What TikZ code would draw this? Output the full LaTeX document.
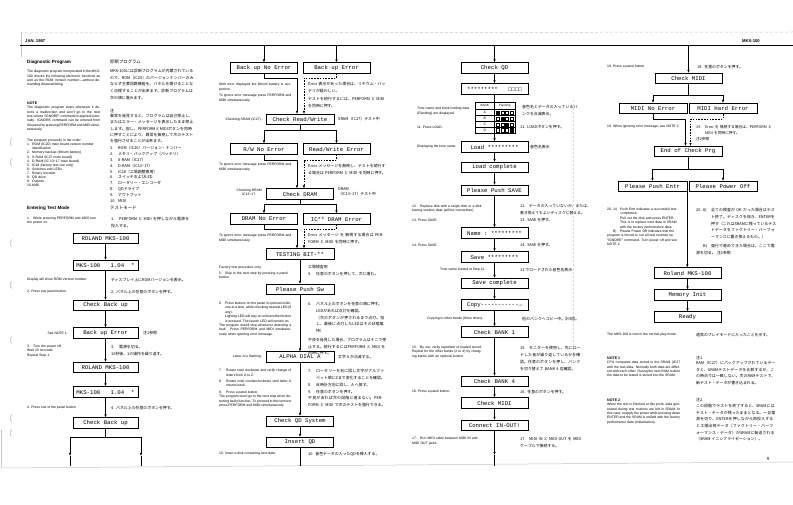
\documentclass[tikz,border=0pt]{standalone}
\usepackage{fontspec}
\setmainfont{Liberation Sans}
\setmonofont{Liberation Mono}
\newfontfamily\jpf{Noto Sans CJK JP}
\XeTeXlinebreaklocale "ja"
\XeTeXlinebreakskip=0pt plus 0.5pt
\tolerance=9999
\emergencystretch=3pt
\hbadness=10000
\hfuzz=20pt
\usetikzlibrary{arrows.meta,calc}
\newcommand\numit[3]{\par\hangindent=#1\relax\hangafter=1\relax\noindent\hbox to #1{#2\hfil}#3}
\tikzset{
 fb/.style={draw, line width=0.55pt, minimum width=67pt, minimum height=10.5pt, inner sep=0pt, font=\ttfamily\fontsize{5.7}{7}\selectfont},
 en/.style={anchor=north west, inner sep=0pt, align=justify, font=\fontsize{3.4}{4.4}\selectfont},
 jp/.style={anchor=north west, inner sep=0pt, align=left, font=\jpf\fontsize{3.9}{6.7}\selectfont},
 lab/.style={inner sep=0pt, font=\fontsize{3.4}{4.4}\selectfont},
 jlab/.style={inner sep=0pt, font=\jpf\fontsize{3.9}{6.7}\selectfont},
 head/.style={inner sep=0pt, anchor=west, font=\bfseries\fontsize{4.6}{5}\selectfont},
 ln/.style={line width=0.55pt},
 arr/.style={ln,-{Latex[length=3pt,width=2.4pt]}},
 dsh/.style={ln,dash pattern=on 1.6pt off 1.2pt},
 darr/.style={dsh,-{Latex[length=3pt,width=2.4pt]}},
 edge/.style={gray!45, line width=0.5pt},
}
\begin{document}
\begin{tikzpicture}[x=1pt,y=-1pt]
\fill[white] (0,0) rectangle (793,505);
\useasboundingbox (0,0) rectangle (793,505);

% page edges and punch holes
\draw[edge, dash pattern=on 3pt off 2pt] (20,33) -- (793,32);
\draw[edge] (0,468) -- (793,462);
\draw[edge] (21,32) -- (21,57);
\draw[edge] (1,430) -- (1,467);
\foreach \hy in {142,162,243,285,340,418,433}
  \draw[gray!50, line width=0.6pt] (12,\hy-3.5) arc[start angle=60, end angle=-60, radius=-4];
\draw[gray!30, dash pattern=on 2pt off 2pt] (573,100) -- (573,360);

% header
\draw[line width=0.7pt] (20,45) -- (793,45);
\node[head, font=\bfseries\fontsize{4.2}{5}\selectfont] (hdate) at (25,41) {JAN. 1987};
\node[head, anchor=east, font=\bfseries\fontsize{4.2}{5}\selectfont] (hmodel) at (760,41) {MKS-100};
\node[inner sep=0pt, font=\fontsize{4.2}{5}\selectfont] (pnum) at (768,459) {9};

% ---------------- column 1 text ----------------
\node[head] (tdiag) at (27,62) {Diagnostic Program};
\node[en, text width=73pt] (pintro) at (27,70) {The diagnostic program incorporated in the MKS-100 checks the following electronic functions as well as the ROM Version number---without demanding disassembling.};
\node[head, font=\bfseries\fontsize{3.6}{4}\selectfont] (tnote) at (27,103) {NOTE};
\node[en, text width=73pt] (pnote) at (27,106) {The diagnostic program stops whenever it detects a malfunction and won't go to the next test unless ``IGNORE'' command is applied externally. IGNORE command can be entered from the panel by pressing PERFORM and MIDI simultaneously.};
\node[en, text width=73pt, align=left, font=\fontsize{3.4}{4.1}\selectfont] (plist) at (27,139) {The program proceeds in the order:%
\numit{5pt}{1.}{ROM (IC20) main board version number identification}%
\numit{5pt}{2.}{Memory backup (lithium battery)}%
\numit{5pt}{3.}{S-RAM (IC27 main board)}%
\numit{5pt}{4.}{D-RAM (IC 13\textasciitilde17 main board)}%
\numit{5pt}{5.}{IC18 (factory test use only)}%
\numit{5pt}{6.}{Switches and LEDs}%
\numit{5pt}{7.}{Rotary encoder}%
\numit{5pt}{8.}{QD drive}%
\numit{5pt}{9.}{Outputs}%
\numit{5pt}{10.}{MIDI}};

\node[jlab, anchor=west, font=\jpf\fontsize{4.4}{5}\selectfont] (jdiag) at (110,62) {診断プログラム};
\node[jp, text width=84pt] (jintro) at (110,69) {MKS-100には診断プログラムが内蔵されているので、ROM（IC20）のバージョンナンバーのみならず主要回路機能を、パネルを開けることなく点検することが出来ます。診断プログラムは次の順に進みます。};
\node[jlab, anchor=west] (jnote) at (110,111) {注};
\node[jp, text width=84pt, font=\jpf\fontsize{3.9}{6.3}\selectfont] (jnotep) at (110,114) {異常を発見すると、プログラムは自己停止し、またはエラー・メッセージを表示したまま停止します。但し、PERFORMとMIDIボタンを同時に押すことにより、異常を無視して次のテストを強行させることが出来ます。};
\node[jp, text width=82pt, font=\jpf\fontsize{3.9}{5.8}\selectfont] (jlist) at (110,144) {%
\numit{8pt}{1.}{ROM（IC20）バージョン・ナンバー}%
\numit{8pt}{2.}{メモリ・バックアップ（バッテリ）}%
\numit{8pt}{3.}{S-RAM（IC27）}%
\numit{8pt}{4.}{D-RAM（IC13\textasciitilde17）}%
\numit{8pt}{5.}{IC18（工場調整専用）}%
\numit{8pt}{6.}{スイッチおよびLED}%
\numit{8pt}{7.}{ロータリー・エンコーダ}%
\numit{8pt}{8.}{QDドライブ}%
\numit{8pt}{9.}{アウトプット}%
\numit{8pt}{10.}{MIDI}};

\node[head] (tenter) at (27,208) {Entering Test Mode};
\node[jlab, anchor=west, font=\jpf\fontsize{4.4}{5}\selectfont] (jenter) at (110,208) {テストモード};
\node[en, text width=70pt, align=left] (s1e) at (27,215) {\numit{6pt}{1.}{While pressing PERFORM and MIDI turn the power on.}};
\node[jp, text width=80pt] (s1j) at (111,214) {\numit{8pt}{1.}{PERFORM と MIDI を押しながら電源を投入する。}};

% column 1 flow
\node[fb, minimum width=65pt] (c1a) at (105.5,238.5) {ROLAND MKS-100};
\node[fb, minimum width=65pt] (c1b) at (105.5,265.5) {MKS-100\ \ \ 1.04\ \ *};
\node[fb, minimum width=65pt] (c1c) at (105.5,305.5) {Check Back up};
\node[fb, minimum width=65pt] (c1d) at (105.5,333) {Back up Error};
\node[fb, minimum width=65pt] (c1e) at (105.5,367.5) {ROLAND MKS-100};
\node[fb, minimum width=65pt] (c1f) at (105.5,392) {MKS-100\ \ \ 1.04\ \ *};
\node[fb, minimum width=65pt] (c1g) at (105.5,423) {Check Back up};
\draw[arr] (c1a) -- (c1b);
\draw[arr] (c1b) -- (c1c);
\draw[arr] (c1c) -- (c1d);
\draw[arr] (c1d) -- (c1e);
\draw[arr] (c1e) -- (c1f);
\draw[arr] (c1f) -- (c1g);
\coordinate (c1s) at (105.5,437);
\coordinate (c1l) at (70,437);
\coordinate (c1r) at (141,437);
\coordinate (c1lm) at (70,456);
\coordinate (c1rm) at (141,456);
\coordinate (c1le) at (70,466);
\coordinate (c1re) at (141,466);
\draw[ln] (c1g) -- (c1s);
\draw[ln] (c1l) -- (c1r);
\draw[arr] (c1l) -- (c1lm);
\draw[ln] (c1lm) -- (c1le);
\draw[arr] (c1r) -- (c1rm);
\draw[ln] (c1rm) -- (c1re);

\node[lab, anchor=west] (l1a) at (27,280) {Display will show ROM Version number.};
\node[jlab, anchor=west] (l1aj) at (111,280) {ディスプレイ上にROMバージョンを表示。};
\node[lab, anchor=west] (l1b) at (27,292) {2. Press any panel button.};
\node[jlab, anchor=west] (l1bj) at (111,292) {2.\ \ パネル上の任意のボタンを押す。};
\node[lab, anchor=east] (l1c) at (68,333) {See NOTE 1.};
\node[jlab, anchor=west] (l1cj) at (143,333) {注1参照};
\node[en, text width=50pt, align=left] (s3e) at (27,343) {\numit{6pt}{3.}{Turn the power off.\\Wait 10 seconds.\\Repeat Step 1.}};
\node[jp, text width=80pt] (s3j) at (111,342) {\numit{8pt}{3.}{電源を切る。\\10秒後、1の操作を繰り返す。}};
\node[lab, anchor=west] (l1d) at (27,408) {4. Press one of the panel button.};
\node[jlab, anchor=west] (l1dj) at (111,408) {4.\ \ パネル上の任意のボタンを押す。};

% ---------------- column 2 ----------------
\node[fb] (b2a) at (264,68) {Back up No Error};
\node[fb] (b2b) at (336.5,68) {Back up Error};
\coordinate (t2a) at (264,45);
\coordinate (t2b) at (336.5,45);
\draw[arr] (t2a) -- (b2a);
\draw[arr] (t2b) -- (b2b);
\node[fb, minimum width=68pt] (crw) at (300,119.5) {Check Read/Write};
\coordinate (j2a) at (297,78);
\coordinate (j2b) at (304,78);
\draw[arr] (b2a.south) |- (j2a) -- (j2a |- crw.north);
\draw[darr] (b2b.south) |- (j2b) -- (j2b |- crw.north);

\node[fb] (rwn) at (264,149) {R/W No Error};
\node[fb] (rwe) at (336.5,149) {Read/Write Error};
\coordinate (s2a) at (300,130);
\draw[ln] (crw) -- (s2a);
\draw[arr] (s2a) -| (rwn.north);
\draw[arr] (s2a) -| (rwe.north);

\node[fb, minimum width=67pt] (cdr) at (300,194) {Check DRAM};
\coordinate (j2c) at (297,160);
\coordinate (j2d) at (304,160);
\draw[arr] (rwn.south) |- (j2c) -- (j2c |- cdr.north);
\draw[darr] (rwe.south) |- (j2d) -- (j2d |- cdr.north);

\node[fb] (drn) at (264,219) {DRAM No Error};
\node[fb] (dre) at (336.5,219) {IC** DRAM Error};
\coordinate (s2b) at (300,204);
\draw[ln] (cdr) -- (s2b);
\draw[arr] (s2b) -| (drn.north);
\draw[arr] (s2b) -| (dre.north);

\node[fb, minimum width=68pt] (tst) at (300,254) {TESTING BIT-**};
\coordinate (j2e) at (297,229);
\coordinate (j2f) at (304,229);
\draw[arr] (drn.south) |- (j2e) -- (j2e |- tst.north);
\draw[darr] (dre.south) |- (j2f) -- (j2f |- tst.north);

\node[fb, minimum width=68pt] (pps) at (300,289.5) {Please Push Sw};
\node[fb, minimum width=68pt] (alp) at (300,357) {ALPHA DIAL A};
\node[fb, minimum width=67pt] (cqs) at (300,421.5) {Check QD System};
\node[fb, minimum width=67pt] (iqd) at (300,442.5) {Insert QD};
\coordinate (e2) at (300,466);
\draw[arr] (tst) -- (pps);
\draw[arr] (pps) -- (alp);
\draw[arr] (alp) -- (cqs);
\draw[arr] (cqs) -- (iqd);
\draw[ln] (iqd) -- (e2);

\node[en, text width=72pt] (e2a) at (219,83) {With error displayed the lithium battery is suspective.\par\vspace{2.5pt}To ignore error message press PERFORM and MIDI simultaneously.};
\node[jp, text width=78pt] (j2a1) at (308,82) {Error 表示があった場合は、リチウム・バッテリが疑わしい。\par\vspace{1.5pt}テストを続行するには、PERFORM と MIDI を同時に押す。};
\node[lab, anchor=east] (l2a) at (262,119.5) {Checking SRAM (IC27).};
\node[jlab, anchor=west] (l2aj) at (338,119.5) {SRAM（IC27）テスト中};
\node[en, text width=72pt] (e2b) at (219,163) {To ignore error message press PERFORM and MIDI simultaneously.};
\node[jp, text width=78pt] (j2b1) at (308,164) {Error メッセージを無視し、テストを続行する場合は PERFORM と MIDI を同時に押す。};
\node[lab, anchor=east, align=center] (l2b) at (262,192) {Checking DRAM\\IC13\textasciitilde17.};
\node[jlab, anchor=west, align=left, font=\jpf\fontsize{3.9}{5.5}\selectfont] (l2bj) at (338,192) {DRAM\\（IC13\textasciitilde17）テスト中};
\node[en, text width=72pt] (e2c) at (219,234) {To ignore error message press PERFORM and MIDI simultaneously.};
\node[jp, text width=78pt] (j2c1) at (308,233) {Error メッセージ を 無視する場合は PERFORM と MIDI を同時に押す。};
\node[en, text width=72pt, align=left] (e2d) at (219,266) {Factory test procedure only.\par\vspace{1pt}\numit{6pt}{5.}{Skip to the next step by pressing a panel button.}};
\node[jp, text width=78pt] (j2d1) at (308,265) {工場検査用\numit{8pt}{5.}{任意のボタンを押して、次に進む。}};
\node[en, text width=72pt] (e2e) at (219,300) {\numit{6pt}{6.}{Press buttons on the panel in optional order, one at a time, while checking nearest LED (if any).\par\hangindent=6pt\hangafter=0 Lighting LED will stay on until another button is pressed. The lasetic LED will remain on.\par\hangindent=6pt\hangafter=0 The program would stop whenever detecting a fault. Press PERFORM and MIDI simultaneously when ignoring error message.}};
\node[jp, text width=78pt] (j2e1) at (308,299) {\numit{8pt}{6.}{パネル上のボタンを任意の順に押す。\par\hangindent=8pt\hangafter=0 LEDがあれば点灯を確認。\par\hangindent=8pt\hangafter=0（次のボタンが押されるまで点灯。但し、最後に点灯したLEDはその状態維持）}\par\vspace{2pt}\noindent 不良を発見した場合、プログラムはそこで停止する。続行するにはPERFORM と MIDI を同時に押す。};
\node[lab, anchor=east] (l2c) at (262,357) {Letter A is flashing.};
\node[jlab, anchor=west] (l2cj) at (338,357) {文字\ A\ が点滅する。};
\node[en, text width=72pt] (e2f) at (219,367) {\numit{7pt}{7.}{Rotate rotal clockwise and verify change of letters from A to Z.}\par\vspace{2pt}\numit{7pt}{8.}{Rotate rotal counterclockwise until letter A returns back.}\par\vspace{2pt}\numit{7pt}{9.}{Press a panel button.\par\hangindent=7pt\hangafter=0 The program won't go to the next step when detecting faulty function. To proceed to the next test press PERFORM and MIDI simultaneously.}};
\node[jp, text width=78pt] (j2f1) at (308,366) {\numit{8pt}{7.}{ロータリーを右に回し文字がアルファベット順にZまで変化することを確認。}\numit{8pt}{8.}{反時計方向に回し、A へ戻す。}\numit{8pt}{9.}{任意のボタンを押す。}\par\noindent 不良があれば次の段階に進まない。PERFORM と MIDI で次のテストを強行できる。};
\node[lab, anchor=west] (e2g) at (219,454) {10. Insert a disk containing tone data.};
\node[jlab, anchor=west] (j2g) at (308,454) {10.\ \ 音色データの入ったQDを挿入する。};

% ---------------- column 3 ----------------
\coordinate (t3) at (494.5,45);
\node[fb] (cqd) at (494.5,68) {Check QD};
\node[fb] (stb) at (494.5,89) {*********\ \ \ □□□□};
\draw[arr] (t3) -- (cqd);
\draw[arr] (cqd) -- (stb);
\coordinate (tbt) at (494.5,102);
\coordinate (tbb) at (494.5,133);
\draw[ln] (475,102) rectangle (515,133);
\draw[ln] (494.5,102) -- (494.5,133);
\foreach \ry in {109.5,115.4,121.3,127.2} \draw[line width=0.4pt] (475,\ry) -- (515,\ry);
\node[inner sep=0pt, font=\fontsize{3}{3.5}\selectfont] (thb) at (484.75,105.9) {BANK};
\node[inner sep=0pt, font=\fontsize{3}{3.5}\selectfont] (thf) at (504.75,105.9) {Flashing};
\foreach \r/\lbl in {0/A,1/B,2/C,3/D}{
  \node[inner sep=0pt, font=\fontsize{3.4}{3.5}\selectfont] (tr\r) at (484.75,{112.45+5.9*\r}) {\lbl};
  \foreach \k in {0,...,3}{
    \ifnum\k=\r
      \filldraw[line width=0.35pt] ({496.3+4.5*\k},{110.9+5.9*\r}) rectangle ++(3.2,3.1);
    \else
      \draw[line width=0.35pt] ({496.3+4.5*\k},{110.9+5.9*\r}) rectangle ++(3.2,3.1);
    \fi
  }
}
\draw[ln] (stb) -- (tbt);
\node[fb] (lda) at (494.5,147) {Load *********};
\node[fb] (ldc) at (494.5,167.5) {Load complete};
\node[fb] (pss) at (494.5,190.5) {Please Push SAVE};
\node[fb] (nam) at (494.5,233) {Name : *********};
\node[fb] (sav) at (494.5,257) {Save *********};
\node[fb] (svc) at (494.5,283.5) {Save complete};
\node[fb] (cpy) at (494.5,305) {Copy-----------→};
\node[fb] (cb1) at (494.5,332) {Check BANK 1};
\node[fb] (cb4) at (494.5,381.5) {Check BANK 4};
\node[fb] (cmi) at (494.5,403) {Check MIDI};
\node[fb] (con) at (494.5,425.5) {Connect IN-OUT!};
\draw[arr] (tbb) -- (lda);
\draw[arr] (lda) -- (ldc);
\draw[arr] (ldc) -- (pss);
\draw[arr] (pss) -- (nam);
\draw[arr] (nam) -- (sav);
\draw[arr] (sav) -- (svc);
\draw[arr] (svc) -- (cpy);
\draw[arr] (cpy) -- (cb1);
\draw[arr] (cb1) -- (cb4);
\draw[arr] (cb4) -- (cmi);
\draw[arr] (cmi) -- (con);
\coordinate (m3) at (494.5,455);
\coordinate (e3) at (494.5,466);
\draw[arr] (con) -- (m3);
\draw[ln] (m3) -- (e3);

\node[en, text width=55pt, align=left] (e3a) at (417,107) {Tone name and bank holding data (Flashing) are displayed.};
\node[lab, anchor=west] (e3b) at (417,127) {11. Press LOAD.};
\node[jp, text width=56pt] (j3a) at (522,105) {音色名とデータの入っているバンクを点滅表示。};
\node[jlab, anchor=west] (j3b) at (520,127) {11.\ \ LOADボタンを押す。};
\node[lab, anchor=west] (e3c) at (417,147) {Displaying the tone name.};
\node[jlab, anchor=west] (j3c) at (530,147) {音色名表示};
\node[en, text width=72pt, align=left] (e3d) at (412,203) {\numit{8pt}{12.}{Replace disk with a single disk or a disk having useless data (will be overwritten).}};
\node[jp, text width=72pt, font=\jpf\fontsize{3.8}{6.5}\selectfont] (j3d) at (520,201) {\numit{9pt}{12.}{データの入っていないか、または、書き換えてもよいディスクに替える。}};
\node[lab, anchor=west] (e3e) at (412,220) {13. Press SAVE.};
\node[jlab, anchor=west] (j3e) at (520,220) {13.\ \ SAVE\ を押す。};
\node[lab, anchor=west] (e3f) at (412,245) {14. Press SAVE.};
\node[jlab, anchor=west] (j3f) at (520,245) {14.\ \ SAVE\ を押す。};
\node[lab, anchor=west] (e3g) at (440,270) {Tone name loaded at Step 11.};
\node[jlab, anchor=west] (j3g) at (520,270) {11 でロードされた音色名表示};
\node[lab, anchor=west] (e3h) at (427,319) {Copying to other banks (three times).};
\node[jlab, anchor=west] (j3h) at (522,319) {他のバンクへコピー中。計3回。};
\node[en, text width=72pt, align=left] (e3i) at (412,344) {\numit{8pt}{15.}{By ear, verify repetition of loaded sound. Repeat for the other banks (2 to 4) by changing banks with an optional button.}};
\node[jp, text width=62pt] (j3i) at (520,343) {\numit{9pt}{15.}{モニターを使用し、先にロードした音が繰り返しているかを確認。任意のボタンを押し、バンクを切り替えて BANK 4 迄確認。}};
\node[lab, anchor=west] (e3j) at (412,392) {16. Press a panel button.};
\node[jlab, anchor=west] (j3j) at (520,392) {16.\ \ 任意のボタンを押す。};
\node[en, text width=72pt, align=left] (e3k) at (412,435) {\numit{8pt}{17.}{Run MIDI cable between MIDI IN and MIDI OUT jacks.}};
\node[jp, text width=62pt] (j3k) at (520,434) {\numit{9pt}{17.}{MIDI IN と MIDI OUT を MIDI ケーブルで接続する。}};

% ---------------- column 4 ----------------
\coordinate (t4) at (688.5,45);
\node[fb] (cm4) at (688.5,78.5) {Check MIDI};
\draw[arr] (t4) -- (cm4);
\node[fb, minimum width=68pt] (mne) at (653,108.5) {MIDI No Error};
\node[fb, minimum width=68pt] (mhe) at (723,108.5) {MIDI Hard Error};
\coordinate (s4a) at (688.5,95);
\draw[ln] (cm4) -- (s4a);
\draw[arr] (s4a) -| (mne.north);
\draw[arr] (s4a) -| (mhe.north);
\node[fb, minimum width=68pt] (ecp) at (688,151.5) {End of Check Prg};
\coordinate (j4a) at (685.5,119);
\coordinate (j4b) at (690.5,119);
\draw[arr] (mne.south) |- (j4a) -- (j4a |- ecp.north);
\draw[darr] (mhe.south) |- (j4b) -- (j4b |- ecp.north);
\node[fb, minimum width=69pt] (ppe) at (652.5,186.5) {Please Push Entr};
\node[fb, minimum width=68pt] (ppo) at (723,186.5) {Please Power Off};
\coordinate (s4b) at (688,169);
\draw[ln] (ecp) -- (s4b);
\draw[arr] (s4b) -| (ppe.north);
\draw[arr] (s4b) -| (ppo.north);
\node[fb] (rl4) at (687.5,273) {Roland MKS-100};
\node[fb] (mem) at (687.5,295) {Memory Init};
\node[fb] (rdy) at (687.5,317) {Ready};
\draw[arr] (ppe.south east) -- (ppe.south east |- rl4.north);
\draw[arr] (rl4) -- (mem);
\draw[arr] (mem) -- (rdy);

\node[lab, anchor=west] (e4a) at (607,67) {18. Press a panel button.};
\node[jlab, anchor=west] (j4a1) at (697,67) {18.\ \ 任意のボタンを押す。};
\node[lab, anchor=west] (e4b) at (607,127) {19. When ignoring error message, see NOTE 2.};
\node[jp, text width=76pt, font=\jpf\fontsize{3.7}{5.9}\selectfont] (j4b1) at (696,122.5) {\numit{9pt}{19.}{Error を 無視する場合は、PERFORM と MIDI を同時に押す。\\注2参照}};
\node[en, text width=72pt, align=left] (e4c) at (607,206) {\numit{13pt}{20. A)}{Push Entr indicates a successful test completion.\par\hangindent=13pt\hangafter=0 Pull out the disk and press ENTER. This is to replace tone data in SRAM with the factory performance data.}\par\numit{13pt}{\hspace{6pt}B)}{Please Power Off indicates that the program is forced to run all test routines by ``IGNORE'' command. Turn power off and see NOTE 2.}};
\node[jp, text width=80pt] (j4c1) at (696,205) {\numit{15pt}{20.\ A)}{全ての検査が OK だった場合はテスト終了。ディスクを抜き、ENTERを押す（これはSRAMに残っているテストデータをファクトリー・パーフォーマンスに置き換えるもの。）}\par\vspace{2pt}\numit{15pt}{\hspace{7pt}B)}{強行で進めてきた場合は、ここで電源を切る。\ 注2参照}};
\node[lab, anchor=west] (e4d) at (607,335) {The MKS-100 is now in the normal play mode.};
\node[jlab, anchor=west] (j4d) at (696,335) {通常のプレイモードに入ったことを示す。};
\node[head, font=\bfseries\fontsize{3.6}{4}\selectfont] (n1) at (607,358) {NOTE 1};
\node[en, text width=73pt] (n1t) at (607,361) {CPU compares data stored in the SRAM (IC27 with the test data. Normally both data are different with each other. During the next RAM routine the data to be tested is stored into the SRAM.};
\node[jlab, anchor=west] (jn1) at (696,358) {注1.};
\node[jp, text width=80pt] (jn1t) at (696,361) {RAM（IC27）にバックアップされているデータと、SRAMテストデータを比較するが、この時点では一致しない。次のRAMテストで、新テスト・データが書き込まれる。};
\node[head, font=\bfseries\fontsize{3.6}{4}\selectfont] (n2) at (607,400) {NOTE 2};
\node[en, text width=73pt] (n2t) at (607,403) {When the test is finished at this point, data generated during test routines are left in SRAM. In this case, reapply the power while pressing down ENTER and the SRAM is refilled with the factory performance data (Initialization).};
\node[jlab, anchor=west] (jn2) at (696,400) {注2.};
\node[jp, text width=80pt] (jn2t) at (696,404) {この段階でテストを終了すると、SRAMにはテスト・データが残ったままとなる。一旦電源を切り、ENTERを押しながら再投入すると工場出荷データ（ファクトリー・パーフォーマンス・データ）がSRAMに転送される（SRAM イニシアライゼーション）。};
\end{tikzpicture}
\end{document}
